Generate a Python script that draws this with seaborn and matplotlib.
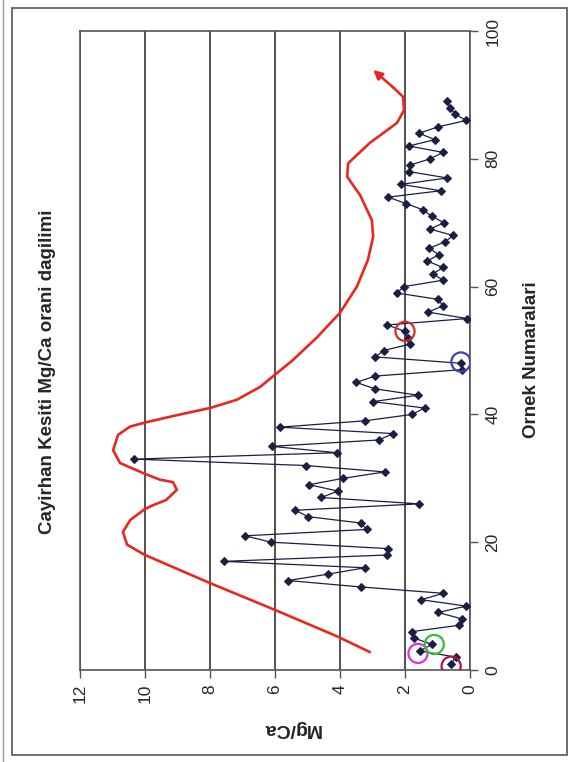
import numpy as np
import pandas as pd
import matplotlib
matplotlib.use("Agg")
import matplotlib.pyplot as plt
from matplotlib.patches import Rectangle
from matplotlib.lines import Line2D
import seaborn as sns

sns.set_style("white")
plt.rcParams['font.family'] = ['Liberation Sans', 'DejaVu Sans']

# ---- data ----
sample_no = list(range(1, 90))
mg_ca = [0.58, 0.43, 1.54, 1.17, 1.72, 1.80, 0.33, 0.25, 0.98, 0.12,
         1.50, 0.82, 3.36, 5.60, 4.37, 3.23, 7.57, 2.55, 2.52, 6.12,
         6.92, 3.17, 3.36, 4.98, 5.38, 1.57, 4.58, 4.06, 4.95, 3.90,
         2.62, 5.05, 10.34, 4.10, 6.10, 2.80, 2.37, 5.85, 3.23, 1.78,
         1.40, 2.98, 1.60, 2.92, 3.50, 2.92, 0.25, 0.28, 2.92, 2.65,
         1.85, 1.90, 2.00, 2.55, 0.09, 1.29, 0.83, 0.98, 2.25, 2.03,
         0.83, 1.14, 0.83, 1.32, 0.95, 1.26, 0.77, 0.52, 1.23, 0.80,
         1.18, 1.44, 1.97, 2.52, 0.90, 2.12, 0.70, 1.88, 1.85, 1.23,
         0.83, 1.88, 1.08, 1.57, 0.98, 0.12, 0.46, 0.62, 0.70]

trend_sample = [2.8, 5.2, 9.4, 13.6, 18.0, 19.6, 21.6, 23.5, 25.2, 25.8,
                26.6, 28.2, 29.4, 29.8, 30.8, 32.4, 34.4, 36.8, 38.1, 38.8,
                39.9, 41.0, 42.3, 44.3, 48.5, 52.1, 55.9, 60.0, 64.2, 67.8,
                70.4, 74.3, 77.2, 79.3, 82.5, 85.6, 87.6, 89.7, 91.2]
trend_mgca = [3.08, 4.06, 6.0, 8.0, 10.0, 10.55, 10.68, 10.45, 10.0, 9.75,
              9.35, 9.02, 9.14, 9.55, 10.05, 10.77, 10.98, 10.83, 10.46, 9.94,
              9.0, 8.0, 7.17, 6.46, 5.45, 4.7, 4.0, 3.48, 3.14, 2.98,
              3.02, 3.38, 3.78, 3.75, 3.08, 2.25, 2.03, 2.06, 2.37]
arrow_tip = (2.98, 93.9)

circle_sample = [53.0, 48.2, 2.6, 4.0, 0.6]
circle_mgca = [2.0, 0.28, 1.6, 1.1, 0.58]
circle_colors = ['#d42a2a', '#4040b0', '#e030e0', '#30c030', '#b01050']

x_ticks = [0, 2, 4, 6, 8, 10, 12]
y_ticks = [0, 20, 40, 60, 80, 100]

title = "Cayirhan Kesiti Mg/Ca orani dagilimi"
xlabel = "Mg/Ca"
ylabel = "Ornek Numaralari"

# ---- figure ----
fig = plt.figure(figsize=(5.71, 7.62), dpi=100)
ax = fig.add_axes([80/571, 1-670/762, 390/571, 639/762])

df = pd.DataFrame({"sample": sample_no, "mgca": mg_ca})
dft = pd.DataFrame({"sample": trend_sample, "mgca": trend_mgca})

sns.lineplot(data=dft, x="mgca", y="sample", orient="y", sort=False,
             color="#e8281e", lw=1.9, ax=ax, zorder=3,
             solid_joinstyle="round", solid_capstyle="round")
ax.annotate("", xy=arrow_tip, xytext=(trend_mgca[-1], trend_sample[-1]),
            arrowprops=dict(arrowstyle="-|>", color="#e8281e", lw=1.9,
                            mutation_scale=13, shrinkA=0, shrinkB=0),
            zorder=3)

sns.lineplot(data=df, x="mgca", y="sample", orient="y", sort=False,
             color="#1c1f45", lw=0.9, marker="D", markersize=4.5,
             markeredgecolor="#1c1f45", ax=ax, zorder=4)

for s_, v_, c_ in zip(circle_sample, circle_mgca, circle_colors):
    ax.scatter([v_], [s_], s=190, facecolors="none", edgecolors=c_,
               linewidths=1.6, zorder=5)

ax.set_xlim(12, 0)
ax.set_ylim(0, 100)
ax.set_xticks(x_ticks)
ax.set_yticks(y_ticks)
ax.xaxis.grid(True, color="#333333", lw=1.2)
ax.yaxis.grid(False)
for sp in ax.spines.values():
    sp.set_visible(True)
    sp.set_color("#555555")
    sp.set_linewidth(1.2)

ax.yaxis.tick_right()
ax.yaxis.set_label_position("right")
ax.tick_params(axis="x", direction="out", length=6, width=1, color="#555555",
               labelsize=12.5, labelrotation=90, pad=4, bottom=True)
ax.tick_params(axis="y", direction="out", length=6, width=1, color="#555555",
               labelsize=12.5, labelrotation=90, pad=5, right=True, left=False)
for lab in ax.get_yticklabels():
    lab.set_verticalalignment("center")

ax.set_xlabel(xlabel, fontsize=14, fontweight="bold", rotation=180)
ax.xaxis.set_label_coords((292-80)/390, (670-728)/639)
ax.xaxis.label.set_va("center")
ax.set_ylabel(ylabel, fontsize=13.5, fontweight="bold", rotation=90)
ax.yaxis.set_label_coords((531-80)/390, (670-360)/639)
ax.yaxis.label.set_va("center")

fig.text(48/571, 1-372/762, title, rotation=90, fontsize=13.5, fontweight="bold",
         ha="center", va="center")

# outer frame
fig.patches.append(Rectangle((12/571, 1-755/762), 555/571, 747/762,
                             transform=fig.transFigure, fill=False,
                             edgecolor="#555555", lw=1.2))
fig.lines.append(Line2D([3/571, 3/571], [0, 1], transform=fig.transFigure,
                        color="#999999", lw=1))

fig.savefig("out.png", dpi=100)
